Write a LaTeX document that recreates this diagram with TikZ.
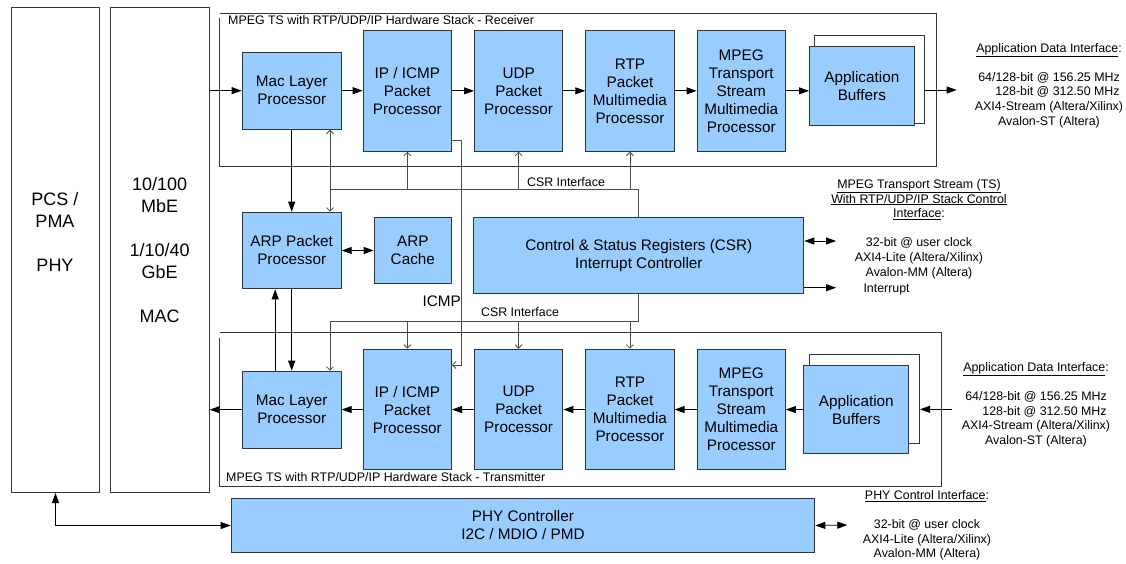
\documentclass[tikz,border=0pt]{standalone}
\usepackage{fontspec}
\setmainfont{Liberation Sans}
\usetikzlibrary{positioning,arrows.meta}

\definecolor{blockfill}{HTML}{99CCFF}
\definecolor{blockline}{HTML}{2E3440}
\definecolor{wire}{HTML}{4A4A4A}

\newcommand{\boxfont}{\fontsize{15.3}{18}\selectfont}
\newcommand{\notefont}{\fontsize{12.4}{14.6}\selectfont}
\newcommand{\bigfont}{\fontsize{18}{22}\selectfont}

\tikzset{
  block/.style={draw=blockline, fill=blockfill, line width=1pt, align=center,
    inner sep=0pt, font=\boxfont},
  procblock/.style={block, minimum width=88.3pt, minimum height=120.7pt},
  macblock/.style={block, minimum width=99pt, minimum height=77pt},
  bufback/.style={draw=blockline, fill=white, line width=1pt},
  sideblock/.style={draw=blockline, line width=1pt, inner sep=0pt},
  stack/.style={draw=blockline, line width=1pt},
  flow/.style={line width=0.8pt, -{Triangle[length=10pt,width=7pt]}},
  flowboth/.style={line width=0.8pt,
    {Triangle[length=10pt,width=7pt]}-{Triangle[length=10pt,width=7pt]}},
  csr/.style={draw=wire, line width=0.8pt},
  csrin/.style={csr, -{Straight Barb[length=3.5pt,width=7pt]}},
  csrboth/.style={csr,
    {Straight Barb[length=3.5pt,width=7pt]}-{Straight Barb[length=3.5pt,width=7pt]}},
  note/.style={font=\notefont, align=center, inner sep=0pt},
}

\begin{document}
\begin{tikzpicture}[x=1pt, y=-1pt]
	\useasboundingbox (0,0) rectangle (1126,563);

	% PHY and MAC columns
	\node[sideblock, minimum width=88pt, minimum height=485pt, anchor=north west] (PcsBlk) at (11,7) {};
	\node[font=\bigfont, align=center] (PcsTxt) at (55,231.5) {PCS /\\PMA\\[22pt]PHY};
	\node[sideblock, minimum width=99pt, minimum height=485pt, anchor=north west,
		font=\bigfont, align=center] (MacBlk) at (109.7,7) {10/100\\MbE\\[22pt]1/10/40\\GbE\\[22pt]MAC};

	% Stack frames
	\draw[stack] (219.7,18) -- (219.7,166.7) -- (936,166.7) -- (936,13.3) -- (219.7,13.3);
	\node[font=\notefont, anchor=west, inner sep=0pt] (RxTitle) at (228,20.5)
		{MPEG TS with RTP/UDP/IP Hardware Stack - Receiver};
	\draw[stack] (219.7,338) -- (219.7,486) -- (941,486) -- (941,332.3) -- (219.7,332.3);
	\node[font=\notefont, anchor=west, inner sep=0pt] (TxTitle) at (226,477)
		{MPEG TS with RTP/UDP/IP Hardware Stack - Transmitter};

	% Receive blocks
	\node[macblock, anchor=north west] (RxMac) at (241.7,51.7) {Mac Layer\\Processor};
	\node[procblock, anchor=north west] (RxIP) at (362.7,30) {IP / ICMP\\Packet\\Processor};
	\node[procblock, right=22pt of RxIP] (RxUDP) {UDP\\Packet\\Processor};
	\node[procblock, right=22pt of RxUDP] (RxRTP) {RTP\\Packet\\Multimedia\\Processor};
	\node[procblock, right=22pt of RxRTP] (RxTS) {MPEG\\Transport\\Stream\\Multimedia\\Processor};
	\node[bufback, minimum width=110pt, minimum height=88.6pt, anchor=north west] (RxBufBack) at (814.3,34.7) {};
	\node[block, minimum width=104.7pt, minimum height=79pt, anchor=north west] (RxBuf) at (809,46) {Application\\Buffers};

	% Transmit blocks
	\node[macblock, anchor=north west] (TxMac) at (241.7,370.7) {Mac Layer\\Processor};
	\node[procblock, anchor=north west] (TxIP) at (362.7,348.7) {IP / ICMP\\Packet\\Processor};
	\node[procblock, right=22pt of TxIP] (TxUDP) {UDP\\Packet\\Processor};
	\node[procblock, right=22pt of TxUDP] (TxRTP) {RTP\\Packet\\Multimedia\\Processor};
	\node[procblock, right=22pt of TxRTP] (TxTS) {MPEG\\Transport\\Stream\\Multimedia\\Processor};
	\node[bufback, minimum width=110.3pt, minimum height=88.7pt, anchor=north west] (TxBufBack) at (808.7,354) {};
	\node[block, minimum width=105pt, minimum height=88.3pt, anchor=north west] (TxBuf) at (803.3,365) {Application\\Buffers};

	% ARP, CSR and PHY control
	\node[block, minimum width=99pt, minimum height=76.6pt, anchor=north west] (ArpProc) at (241.7,211.7) {ARP Packet\\Processor};
	\node[block, minimum width=77.3pt, minimum height=66pt, anchor=north west] (ArpCache) at (373.7,216.7) {ARP\\Cache};
	\node[block, minimum width=330pt, minimum height=76.6pt, anchor=north west] (CsrReg) at (473.3,216.7)
		{Control \& Status Registers (CSR)\\Interrupt Controller};
	\node[block, minimum width=583.6pt, minimum height=54.6pt, anchor=north west] (PhyCtl) at (230.7,497.7)
		{PHY Controller\\I2C / MDIO / PMD};

	% Interface notes
	\node[note] (RxIf) at (1049,85.3) {\underline{Application Data Interface}:\\[14.6pt]
		64/128-bit @ 156.25 MHz\\\hspace*{17pt}128-bit @ 312.50 MHz\\AXI4-Stream (Altera/Xilinx)\\Avalon-ST (Altera)};
	\node[note] (TxIf) at (1036,404.5) {\underline{Application Data Interface}:\\[14.6pt]
		64/128-bit @ 156.25 MHz\\\hspace*{17pt}128-bit @ 312.50 MHz\\AXI4-Stream (Altera/Xilinx)\\Avalon-ST (Altera)};
	\node[note] (CsrIf) at (919,229) {\underline{MPEG Transport Stream (TS)}\\\underline{With RTP/UDP/IP Stack Control}\\
		\underline{Interface}:\\[14.6pt]32-bit @ user clock\\AXI4-Lite (Altera/Xilinx)\\Avalon-MM (Altera)};
	\node[note, anchor=west] (IrqTxt) at (863.3,289.3) {Interrupt};
	\node[note] (PhyIf) at (927,525.5) {\underline{PHY Control Interface}:\\[14.6pt]
		32-bit @ user clock\\AXI4-Lite (Altera/Xilinx)\\Avalon-MM (Altera)};
	\node[note] (CsrTopLbl) at (566,181.7) {CSR Interface};
	\node[note] (CsrBotLbl) at (520,312) {CSR Interface};
	\node[font=\boxfont, inner sep=0pt] (IcmpLbl) at (441.7,301.7) {ICMP};

	% Receive path
	\coordinate (RxOut) at (956.7,90);
	\draw[flow] (MacBlk.east |- RxMac.west) -- (RxMac.west);
	\draw[flow] (RxMac.east) -- (RxMac.east -| RxIP.west);
	\draw[flow] (RxIP) -- (RxUDP);
	\draw[flow] (RxUDP) -- (RxRTP);
	\draw[flow] (RxRTP) -- (RxTS);
	\draw[flow] (RxTS.east) -- (RxTS.east -| RxBuf.west);
	\draw[flow] (RxOut -| RxBufBack.east) -- (RxOut);

	% Transmit path
	\coordinate (TxIn) at (952,409.3);
	\draw[flow] (TxIn) -- (TxIn -| TxBufBack.east);
	\draw[flow] (TxBuf.west |- TxTS) -- (TxTS.east);
	\draw[flow] (TxTS) -- (TxRTP);
	\draw[flow] (TxRTP) -- (TxUDP);
	\draw[flow] (TxUDP) -- (TxIP);
	\draw[flow] (TxIP.west) -- (TxIP.west -| TxMac.east);
	\draw[flow] (TxMac.west) -- (TxMac.west -| MacBlk.east);

	% ARP links
	\draw[flow] (RxMac) -- (ArpProc);
	\draw[flowboth] (ArpProc.east) -- (ArpProc.east -| ArpCache.west);
	\draw[flow] (ArpProc) -- (TxMac);
	\draw[flow] ([xshift=-16.5pt]TxMac.north) -- ([xshift=-16.5pt]TxMac.north |- ArpProc.south);

	% CSR buses
	\coordinate (BusTop) at (330,189.3);
	\coordinate (BusBot) at (330,321.3);
	\draw[csrboth] (RxMac.south -| BusTop) -- (ArpProc.north -| BusTop);
	\draw[csr] (BusTop) -| (CsrReg.north);
	\draw[csrin] (BusTop -| RxIP) -- (RxIP.south);
	\draw[csrin] (BusTop -| RxUDP) -- (RxUDP.south);
	\draw[csrin] (BusTop -| RxRTP) -- (RxRTP.south);
	\draw[csrin] (CsrReg.south) |- (BusBot) -- (BusBot |- TxMac.north);
	\draw[csrin] (BusBot -| TxIP) -- (TxIP.north);
	\draw[csrin] (BusBot -| TxUDP) -- (TxUDP.north);
	\draw[csrin] (BusBot -| TxRTP) -- (TxRTP.north);

	% ICMP loop-back
	\coordinate (IcmpTop) at (461.7,140);
	\coordinate (IcmpBot) at (461.7,365);
	\draw[csrin] (RxIP.east |- IcmpTop) -- (IcmpTop) -- (IcmpBot) -- (TxIP.east |- IcmpBot);

	% Host side ports
	\coordinate (CsrHost) at (836,241);
	\coordinate (IrqOut) at (836,287.7);
	\coordinate (PhyHost) at (847.3,525);
	\draw[flowboth] (CsrReg.east |- CsrHost) -- (CsrHost);
	\draw[flow] (CsrReg.east |- IrqOut) -- (IrqOut);
	\draw[flowboth] (PcsBlk.south) |- (PhyCtl.west);
	\draw[flowboth] (PhyCtl.east) -- (PhyHost);
\end{tikzpicture}
\end{document}
